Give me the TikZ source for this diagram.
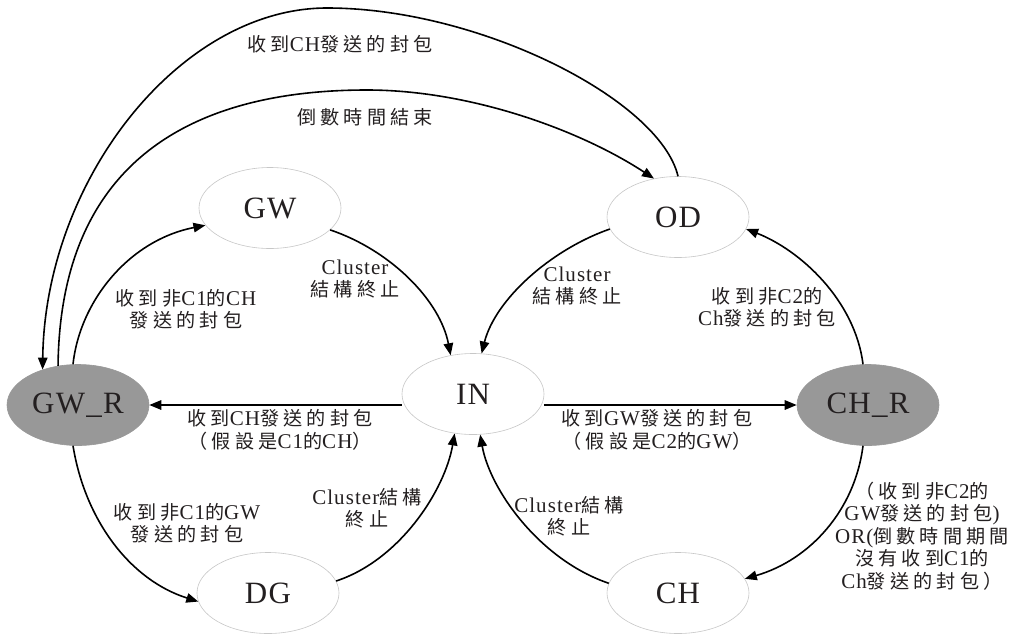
\documentclass[tikz,border=0pt]{standalone}
\usepackage{fontspec}
\setmainfont{Liberation Serif}
\newfontfamily\cjk[Scale=0.91,LetterSpace=22]{Noto Sans CJK TC}
\newfontfamily\lblfont[LetterSpace=5]{Liberation Serif}
\newfontfamily\statefont[LetterSpace=4]{Liberation Serif}
\usetikzlibrary{arrows.meta,shapes.geometric}
\newcommand\zh[1]{{\cjk #1}}
\definecolor{nodegray}{RGB}{152,152,152}
\definecolor{txt}{RGB}{35,31,32}
\tikzset{
  state/.style={ellipse, minimum width=142pt, minimum height=81pt, inner sep=0pt,
    draw=black!22, line width=0.6pt, text=txt, font=\statefont\fontsize{31}{31}\selectfont},
  gstate/.style={state, fill=nodegray, draw=nodegray},
  arr/.style={line width=1.6pt, draw=black, -{Triangle[length=12pt,width=9.5pt]}},
  lab/.style={align=center, inner sep=0pt, text=txt, font=\lblfont\fontsize{21}{22.5}\selectfont},
}
\begin{document}
\begin{tikzpicture}[x=1pt,y=-1pt]
\useasboundingbox (0,0) rectangle (1017,635);
\fill[white] (0,0) rectangle (1017,635);
% states
\node[state]  (GW)  at (270,208) {GW};
\node[state]  (OD)  at (678,217) {OD};
\node[gstate] (GWR) at (78,405)  {GW\_R};
\node[state]  (IN)  at (473,394) {IN};
\node[gstate] (CHR) at (868,405) {CH\_R};
\node[state]  (DG)  at (268,593) {DG};
\node[state]  (CH)  at (678,593) {CH};
% helper coordinates for the long arcs
\coordinate (topA) at (327,8);
\coordinate (topB) at (367,90);
% connectors
\draw[arr] (GWR.97) .. controls (80,300) and (130,240) .. (GW.195);
\draw[arr] (GW.-20) .. controls (390,250) and (440,300) .. (IN.120);
\draw[arr] (OD.190) .. controls (550,250) and (495,300) .. (IN.78);
\draw[arr] (CHR.97) .. controls (855,300) and (800,250) .. (OD.-10);
\draw[arr] (GWR.east -| IN.west) -- (GWR.east);
\draw[arr] (CHR.west -| IN.east) -- (CHR.west);
\draw[arr] (GWR.263) .. controls (85,520) and (130,580) .. (DG.187);
\draw[arr] (DG.10) .. controls (400,560) and (445,490) .. (IN.245);
\draw[arr] (CH.172) .. controls (540,560) and (490,490) .. (IN.-80);
\draw[arr] (CHR.263) .. controls (855,510) and (810,560) .. (CH.12);
\draw[arr] (OD.90) .. controls (660,100) and (480,8) .. (topA) .. controls (180,8) and (45,180) .. (GWR.135);
\draw[arr] (GWR.117) .. controls (60,180) and (170,90) .. (topB) .. controls (470,90) and (580,130) .. (OD.122);
% labels
\node[lab] (L1) at (340,44) {\zh{收到}CH\zh{發送的封包}};
\node[lab] (L2) at (365,117) {\zh{倒數時間結束}};
\node[lab] (L3) at (186,309) {\zh{收到非}C1\zh{的}CH\\\zh{發送的封包}};
\node[lab] (L4) at (355,279) {Cluster\\\zh{結構終止}};
\node[lab] (L5) at (577,286) {Cluster\\\zh{結構終止}};
\node[lab] (L6) at (767,307) {\zh{收到非}C2\zh{的}\\Ch\zh{發送的封包}};
\node[lab] (L7) at (280,430) {\zh{收到}CH\zh{發送的封包}\\\zh{（假設是}C1\zh{的}CH\zh{）}};
\node[lab] (L8) at (657,430) {\zh{收到}GW\zh{發送的封包}\\\zh{（假設是}C2\zh{的}GW\zh{）}};
\node[lab] (L9) at (187,523) {\zh{收到非}C1\zh{的}GW\\\zh{發送的封包}};
\node[lab] (L10) at (367,508) {Cluster\zh{結構}\\\zh{終止}};
\node[lab] (L11) at (569,516) {Cluster\zh{結構}\\\zh{終止}};
\node[lab] (L12) at (922,536) {\zh{（收到非}C2\zh{的}\\GW\zh{發送的封包})\\OR(\zh{倒數時間期間}\\\zh{沒有收到}C1\zh{的}\\Ch\zh{發送的封包）}};
\end{tikzpicture}
\end{document}
